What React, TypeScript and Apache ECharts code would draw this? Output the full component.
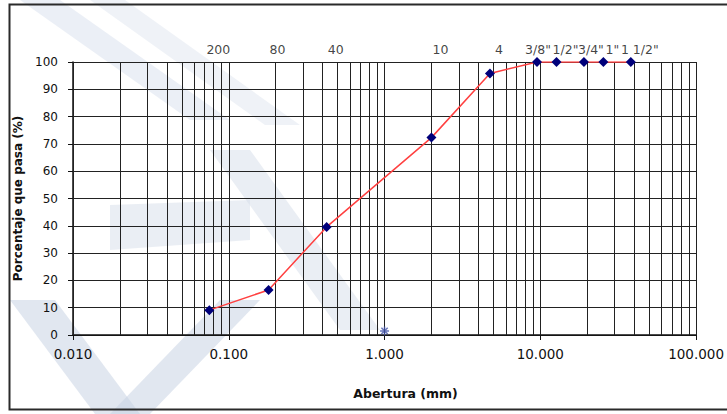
import React, { useEffect, useRef } from "react";
import * as echarts from "echarts";

// Sieve openings (mm) and percent passing for the grading curve
const sieveSizes = [0.075, 0.18, 0.425, 2.0, 4.75, 9.525, 12.7, 19.05, 25.4, 38.1];
const percentPassing = [9.1, 16.5, 39.6, 72.3, 95.8, 100, 100, 100, 100, 100];
const sieveLabels = ["200", "80", "40", "10", "4", '3/8"', '1/2"', '3/4"', '1"', '1 1/2"'];

// Stray point sitting on the axis at 1 mm
const strayPoint = [1.0, 1.5];

// Log grid: 1..9 within each decade from 0.01 to 100 mm
const decades = [0.01, 0.1, 1, 10];
const decadeSteps = [1, 2, 3, 4, 5, 6, 7, 8, 9];

const xMin = 0.01;
const xMax = 100;

// horizontal nudge (px) of each sieve designation so the crowded inch labels stay legible
const labelNudgeX = [9, 9, 9, 9, 9, 1, 9, 7, 9, 9];

export default function App() {
  const ref = useRef<HTMLDivElement>(null);

  useEffect(() => {
    document.body.style.margin = "0";
    if (!ref.current) return;
    const chart = echarts.init(ref.current, undefined, { renderer: "svg" });

    const gridXs: number[] = [];
    decades.forEach((d) => decadeSteps.forEach((s) => gridXs.push(+(d * s).toPrecision(6))));
    gridXs.push(xMax);

    const textColor = "#111";
    const font = "DejaVu Sans, Liberation Sans, sans-serif";

    const band = (points: number[][], fill: string, opacity: number) => ({
      type: "polygon",
      z: -10,
      silent: true,
      shape: { points },
      style: { fill, opacity },
    });

    const option: echarts.EChartsOption = {
      animation: false,
      backgroundColor: "#ffffff",
      grid: { left: 73, right: 28, top: 62, bottom: 79 },
      graphic: [
        // faint background bands
        band([[20, 0], [60, 0], [230, 120], [190, 120]], "#dbe2ee", 0.55),
        band([[90, 0], [125, 0], [300, 125], [265, 125]], "#dbe2ee", 0.45),
        band([[110, 205], [250, 200], [250, 240], [110, 250]], "#d6dde9", 0.5),
        band([[210, 150], [250, 150], [380, 330], [340, 330]], "#d6dde9", 0.5),
        band([[10, 300], [55, 300], [140, 414], [95, 414]], "#c9d3e4", 0.55),
        band([[110, 414], [150, 414], [260, 300], [220, 300]], "#c9d3e4", 0.55),
        // outer frame
        {
          type: "rect",
          z: 100,
          silent: true,
          shape: { x: 9.5, y: 4.5, width: 740, height: 405 },
          style: { fill: "none", stroke: "#2a2a2a", lineWidth: 2 },
        },
      ] as any,
      xAxis: {
        type: "log",
        logBase: 10,
        min: xMin,
        max: xMax,
        interval: 1,
        name: "Abertura (mm)",
        nameLocation: "middle",
        nameGap: 52,
        nameTextStyle: {
          color: textColor,
          fontSize: 12.5,
          fontWeight: "bold",
          fontFamily: font,
          padding: [0, 0, 0, 42],
        },
        axisLine: { show: true, lineStyle: { color: "#111", width: 1.5 } },
        axisTick: { show: true, inside: false, length: 5, lineStyle: { color: "#111" } },
        axisLabel: {
          color: textColor,
          fontSize: 13.5,
          fontFamily: font,
          margin: 12,
          formatter: (v: number) => v.toFixed(3),
        },
        splitLine: { show: false },
      },
      yAxis: {
        type: "value",
        min: 0,
        max: 100,
        interval: 10,
        name: "Porcentaje que pasa (%)",
        nameLocation: "middle",
        nameGap: 39,
        nameTextStyle: { color: textColor, fontSize: 12, fontWeight: "bold", fontFamily: font },
        axisLine: { show: true, lineStyle: { color: "#111", width: 1.5 } },
        axisTick: { show: true, inside: false, length: 5, lineStyle: { color: "#111" } },
        axisLabel: { color: textColor, fontSize: 12, fontFamily: font, margin: 15 },
        splitLine: { show: true, lineStyle: { color: "#222", width: 1 } },
      },
      series: [
        {
          // vertical log grid lines
          type: "scatter",
          data: [],
          silent: true,
          markLine: {
            silent: true,
            symbol: "none",
            label: { show: false },
            lineStyle: { color: "#222", width: 1, type: "solid" },
            data: gridXs.map((x) => ({ xAxis: x })),
          },
        },
        {
          type: "line",
          data: sieveSizes.map((s, i) => [s, percentPassing[i]]),
          symbol: "diamond",
          symbolSize: 10,
          lineStyle: { color: "#ff4040", width: 1.5 },
          itemStyle: { color: "#00007a" },
          z: 5,
        },
        {
          // sieve designations along the top edge
          type: "scatter",
          data: sieveSizes.map((s, i) => ({
            value: [s, 100],
            label: { offset: [labelNudgeX[i], 0] },
          })),
          symbolSize: 0,
          silent: true,
          label: {
            show: true,
            position: "top",
            distance: 6,
            color: textColor,
            fontSize: 12.5,
            fontFamily: font,
            formatter: (p: any) => sieveLabels[p.dataIndex],
          },
          z: 6,
        },
        {
          type: "scatter",
          data: [strayPoint],
          symbol: "path://M0,-5L0,5M-5,0L5,0M-3.5,-3.5L3.5,3.5M-3.5,3.5L3.5,-3.5",
          symbolSize: 9,
          itemStyle: { color: "rgba(0,0,0,0)", borderColor: "#4455aa", borderWidth: 1.5 },
          silent: true,
          z: 6,
        },
      ],
    };

    chart.setOption(option);
    return () => chart.dispose();
  }, []);

  return <div ref={ref} style={{ width: 727, height: 414 }} />;
}
